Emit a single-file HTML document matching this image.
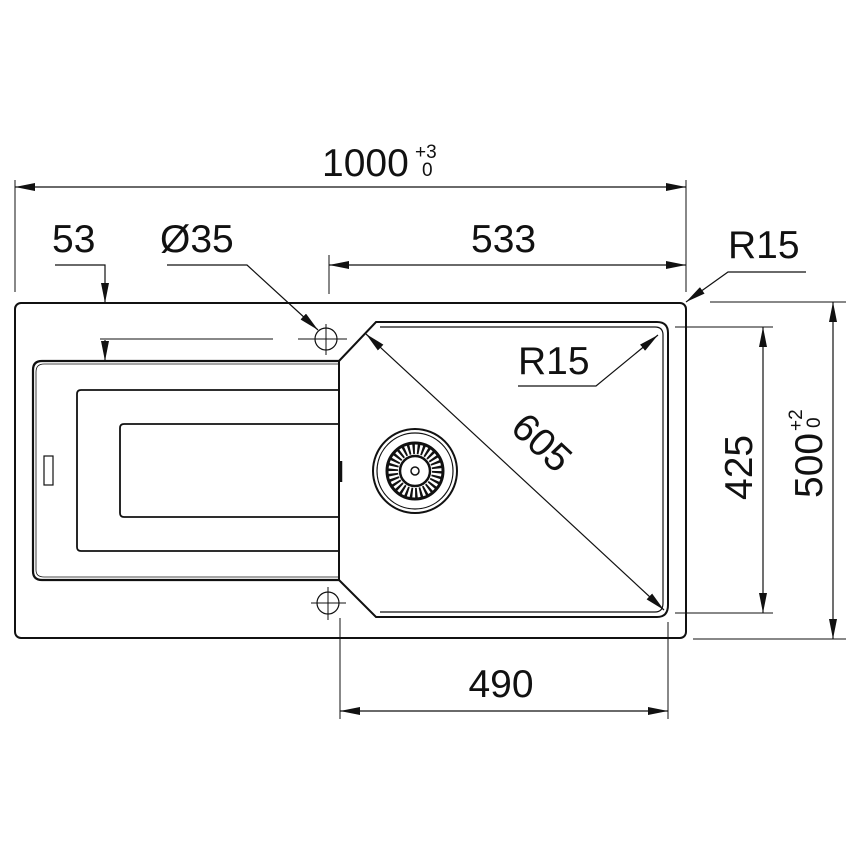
<!DOCTYPE html>
<html><head><meta charset="utf-8"><style>html,body{margin:0;padding:0;background:#fff}svg{display:block}text{font-family:"Liberation Sans",sans-serif;fill:#111}</style></head>
<body>
<svg width="860" height="860" viewBox="0 0 860 860" xmlns="http://www.w3.org/2000/svg">
<defs>
<marker id="a" viewBox="0 0 20 8" refX="20" refY="4" markerWidth="20" markerHeight="8" markerUnits="userSpaceOnUse" orient="auto-start-reverse"><path d="M0,0 L20,4 L0,8 z" fill="#111"/></marker>
</defs>
<g fill="none" stroke="#111">
<rect x="15" y="303" width="671" height="335" rx="6" stroke-width="2"/>
<path d="M339,361 H42 Q33,361 33,370 V571 Q33,580 42,580 H339" stroke-width="2.2"/>
<path d="M339,364 H44 Q36,364 36,372 V570 Q36,577 44,577 H339" stroke-width="0.8"/>
<path d="M339,390 H81 Q77,390 77,394 V547 Q77,551 81,551 H339" stroke-width="1.8"/>
<path d="M339,424 H124 Q120,424 120,428 V513 Q120,517 124,517 H339" stroke-width="1.8"/>
<rect x="44" y="456" width="9" height="29" stroke-width="1.2"/>
<line x1="339" y1="361" x2="339" y2="580" stroke-width="2"/>
<line x1="341" y1="461" x2="341" y2="482" stroke-width="2.5"/>
<path d="M339,361 L376,322 H657 Q668,322 668,333 V605 Q668,617 657,617 H376 L339,580" stroke-width="2"/>
<path d="M380,327 H655 Q663,327 663,335 V603 Q663,612 655,612 H380" stroke-width="1.2"/>
<circle cx="326" cy="339" r="11" stroke-width="1.2"/>
<line x1="298" y1="339" x2="347" y2="339" stroke-width="1"/>
<line x1="326" y1="324" x2="326" y2="355" stroke-width="1"/>
<circle cx="328" cy="603" r="11" stroke-width="1.2"/>
<line x1="311" y1="603" x2="346" y2="603" stroke-width="1"/>
<line x1="328" y1="587" x2="328" y2="620" stroke-width="1"/>
<circle cx="415" cy="471" r="42" stroke-width="2"/>
<circle cx="415" cy="471" r="38" stroke-width="1.2"/>
<circle cx="415" cy="471" r="28" stroke-width="3"/>
<circle cx="415" cy="471" r="22" stroke-width="10" stroke-dasharray="2.2 2.4"/>
<circle cx="415" cy="471" r="15" stroke-width="2.5"/>
<circle cx="415" cy="471" r="4" stroke-width="1.5"/>
<line x1="15" y1="180" x2="15" y2="292" stroke-width="1"/>
<line x1="686" y1="180" x2="686" y2="292" stroke-width="1"/>
<line x1="15" y1="187" x2="686" y2="187" stroke-width="1.2" marker-start="url(#a)" marker-end="url(#a)"/>
<polyline points="55,265 105,265 105,303" stroke-width="1.2" marker-end="url(#a)"/>
<line x1="105" y1="340" x2="105" y2="361" stroke-width="1.2" marker-end="url(#a)"/>
<line x1="100" y1="339" x2="273" y2="339" stroke-width="1"/>
<polyline points="167,265 247,265 318,330" stroke-width="1.2" marker-end="url(#a)"/>
<line x1="329" y1="255" x2="329" y2="294" stroke-width="1"/>
<line x1="329" y1="265" x2="686" y2="265" stroke-width="1.2" marker-start="url(#a)" marker-end="url(#a)"/>
<polyline points="806,272 728,272 686,302" stroke-width="1.2" marker-end="url(#a)"/>
<polyline points="518,386 596,386 658,335" stroke-width="1.2" marker-end="url(#a)"/>
<line x1="366" y1="334" x2="664" y2="610" stroke-width="1.2" marker-start="url(#a)" marker-end="url(#a)"/>
<line x1="675" y1="327" x2="773" y2="327" stroke-width="1"/>
<line x1="675" y1="613" x2="773" y2="613" stroke-width="1"/>
<line x1="763" y1="327" x2="763" y2="613" stroke-width="1.2" marker-start="url(#a)" marker-end="url(#a)"/>
<line x1="710" y1="302" x2="846" y2="302" stroke-width="1"/>
<line x1="693" y1="639" x2="846" y2="639" stroke-width="1"/>
<line x1="833" y1="302" x2="833" y2="639" stroke-width="1.2" marker-start="url(#a)" marker-end="url(#a)"/>
<line x1="340" y1="618" x2="340" y2="719" stroke-width="1"/>
<line x1="668" y1="622" x2="668" y2="719" stroke-width="1"/>
<line x1="340" y1="711" x2="668" y2="711" stroke-width="1.2" marker-start="url(#a)" marker-end="url(#a)"/>
</g>
<text x="322" y="176" font-size="39">1000</text>
<text x="415" y="158" font-size="19">+3</text>
<text x="422" y="176" font-size="19">0</text>
<text x="52" y="252" font-size="39">53</text>
<text x="160" y="252" font-size="39">Ø35</text>
<text x="471" y="252" font-size="39">533</text>
<text x="728" y="258" font-size="39">R15</text>
<text x="518" y="374" font-size="39">R15</text>
<text x="501" y="697" font-size="39" text-anchor="middle">490</text>
<text font-size="39" transform="translate(509,430) rotate(43)">605</text>
<text font-size="39" transform="translate(752,500) rotate(-90)">425</text>
<text font-size="39" transform="translate(822,498) rotate(-90)">500</text>
<text font-size="19" transform="translate(802,431) rotate(-90)">+2</text>
<text font-size="19" transform="translate(820,428) rotate(-90)">0</text>
</svg>
</body></html>
